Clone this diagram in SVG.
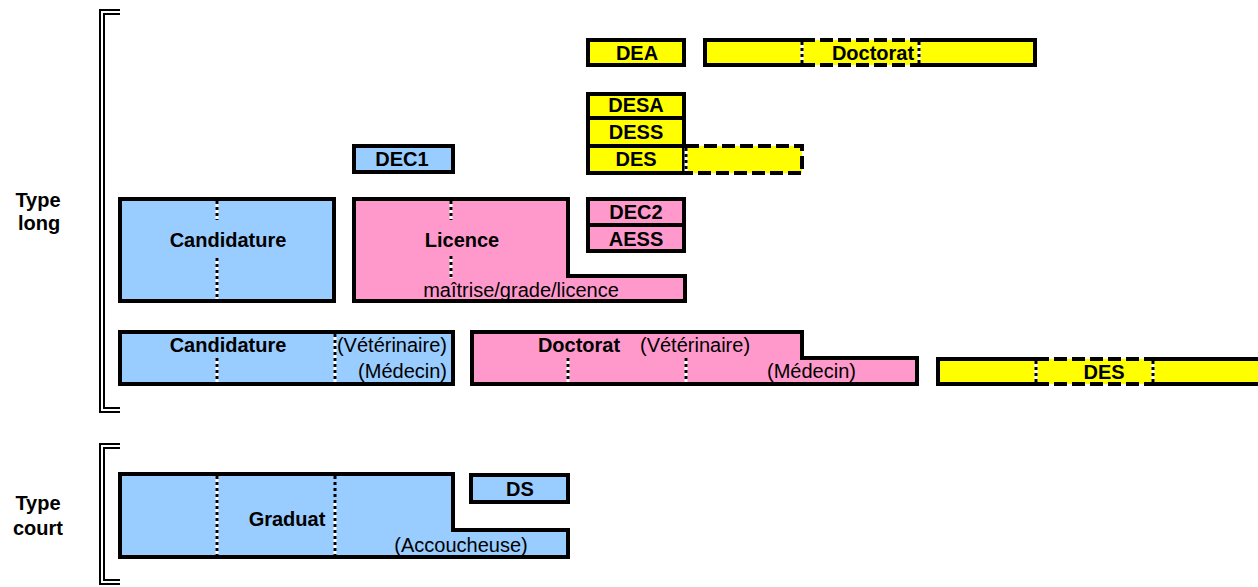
<svg xmlns="http://www.w3.org/2000/svg" width="1258" height="587" viewBox="0 0 1258 587">
<style>
text{font-family:"Liberation Sans",Arial,sans-serif;font-size:20px;fill:#000}
.b{font-weight:bold}
.m{text-anchor:middle}
.e{text-anchor:end}
.blue{fill:#99CCFF}
.pink{fill:#FF99CC}
.yel{fill:#FFFF00}
.bx{stroke:#000;stroke-width:4;stroke-linejoin:miter}
.sol{fill:none;stroke:#000;stroke-width:4}
.dsh{fill:none;stroke:#000;stroke-width:4;stroke-dasharray:13 5}
.dw{stroke:#fff;stroke-width:3}
.db{stroke:#000;stroke-width:3;stroke-dasharray:3 3}
.br{fill:none;stroke:#000;stroke-width:2}
</style>
<rect width="1258" height="587" fill="#fff"/>

<g id="brackets">
<path class="br" d="M120,10 H100 V412 H120 M120,14 H104 V408 H120"/>
<path class="br" d="M120,444 H100 V584 H120 M120,448 H104 V580 H120"/>
</g>
<g id="connectors"/>

<g id="labels">
<text class="b m" x="38" y="207">Type</text>
<text class="b m" x="39" y="230">long</text>
<text class="b m" x="38" y="510">Type</text>
<text class="b m" x="38" y="535">court</text>
</g>

<g id="dea">
<rect class="yel bx" x="588" y="40" width="96" height="25"/>
<text class="b m" x="637" y="60">DEA</text>
</g>

<g id="doctorat-top">
<rect class="yel" x="705" y="40" width="330" height="25"/>
<path class="sol" d="M802,40 H705 V65 H802 M919,40 H1035 V65 H919"/>
<path class="dsh" d="M802,40 H919 M802,65 H919"/>
<line class="dw" x1="802" y1="42" x2="802" y2="63"/><line class="db" x1="802" y1="42" x2="802" y2="63"/>
<line class="dw" x1="919" y1="42" x2="919" y2="63"/><line class="db" x1="919" y1="42" x2="919" y2="63"/>
<text class="b m" x="873" y="60">Doctorat</text>
</g>

<g id="desa">
<rect class="yel bx" x="588" y="94" width="96" height="24"/>
<text class="b m" x="636" y="112">DESA</text>
</g>
<g id="dess">
<rect class="yel bx" x="588" y="118" width="96" height="28"/>
<text class="b m" x="636" y="139">DESS</text>
</g>
<g id="des-top">
<rect class="yel" x="686" y="146" width="116" height="27"/>
<path class="dsh" d="M686,146 H802 V173 H686"/>
<rect class="yel bx" x="588" y="146" width="96" height="27"/>
<line class="dw" x1="686" y1="148" x2="686" y2="171"/><line class="db" x1="686" y1="148" x2="686" y2="171"/>
<text class="b m" x="636" y="166">DES</text>
</g>

<g id="dec1">
<rect class="blue bx" x="354" y="146" width="99" height="26"/>
<text class="b m" x="402" y="166">DEC1</text>
</g>

<g id="candidature-long">
<rect class="blue bx" x="120" y="199" width="214" height="102"/>
<line class="dw" x1="217" y1="201" x2="217" y2="220"/><line class="db" x1="217" y1="201" x2="217" y2="220"/>
<line class="dw" x1="217" y1="258" x2="217" y2="299"/><line class="db" x1="217" y1="258" x2="217" y2="299"/>
<text class="b m" x="228" y="247">Candidature</text>
</g>

<g id="licence">
<path class="pink bx" d="M354,199 H568 V276 H685 V301 H354 Z"/>
<line class="dw" x1="451" y1="201" x2="451" y2="220"/><line class="db" x1="451" y1="201" x2="451" y2="220"/>
<line class="dw" x1="451" y1="256" x2="451" y2="278"/><line class="db" x1="451" y1="256" x2="451" y2="278"/>
<text class="b m" x="462" y="247">Licence</text>
<text class="m" x="521" y="297">maîtrise/grade/licence</text>
</g>

<g id="dec2">
<rect class="pink bx" x="588" y="199" width="96" height="26"/>
<text class="b m" x="636" y="219">DEC2</text>
</g>
<g id="aess">
<rect class="pink bx" x="588" y="225" width="96" height="26"/>
<text class="b m" x="636" y="246">AESS</text>
</g>

<g id="candidature-vet">
<rect class="blue bx" x="120" y="332" width="333" height="52"/>
<line class="dw" x1="217" y1="358" x2="217" y2="382"/><line class="db" x1="217" y1="358" x2="217" y2="382"/>
<line class="dw" x1="335" y1="334" x2="335" y2="382"/><line class="db" x1="335" y1="334" x2="335" y2="382"/>
<text class="b m" x="228" y="352">Candidature</text>
<text class="e" x="447" y="352">(Vétérinaire)</text>
<text class="e" x="447" y="378">(Médecin)</text>
</g>

<g id="doctorat-vet">
<path class="pink bx" d="M472,332 H802 V358 H917 V384 H472 Z"/>
<line class="dw" x1="568" y1="358" x2="568" y2="382"/><line class="db" x1="568" y1="358" x2="568" y2="382"/>
<line class="dw" x1="686" y1="358" x2="686" y2="382"/><line class="db" x1="686" y1="358" x2="686" y2="382"/>
<text class="b m" x="579" y="352">Doctorat</text>
<text x="640" y="352">(Vétérinaire)</text>
<text x="767" y="378">(Médecin)</text>
</g>

<g id="des-bottom">
<rect class="yel" x="938" y="359" width="322" height="25"/>
<path class="sol" d="M1036,359 H938 V384 H1036 M1153,359 H1262 M1153,384 H1262"/>
<path class="dsh" d="M1036,359 H1153 M1036,384 H1153"/>
<line class="dw" x1="1036" y1="361" x2="1036" y2="382"/><line class="db" x1="1036" y1="361" x2="1036" y2="382"/>
<line class="dw" x1="1153" y1="361" x2="1153" y2="382"/><line class="db" x1="1153" y1="361" x2="1153" y2="382"/>
<text class="b m" x="1104" y="379">DES</text>
</g>

<g id="graduat">
<path class="blue bx" d="M120,474 H453 V530 H568 V557 H120 Z"/>
<line class="dw" x1="217" y1="476" x2="217" y2="555"/><line class="db" x1="217" y1="476" x2="217" y2="555"/>
<line class="dw" x1="335" y1="500" x2="335" y2="555"/>
<line class="db" x1="335" y1="476" x2="335" y2="555"/>
<text class="b m" x="287" y="526">Graduat</text>
<text class="m" x="461" y="552">(Accoucheuse)</text>
</g>

<g id="ds">
<rect class="blue bx" x="471" y="475" width="97" height="27"/>
<text class="b m" x="520" y="496">DS</text>
</g>
</svg>
